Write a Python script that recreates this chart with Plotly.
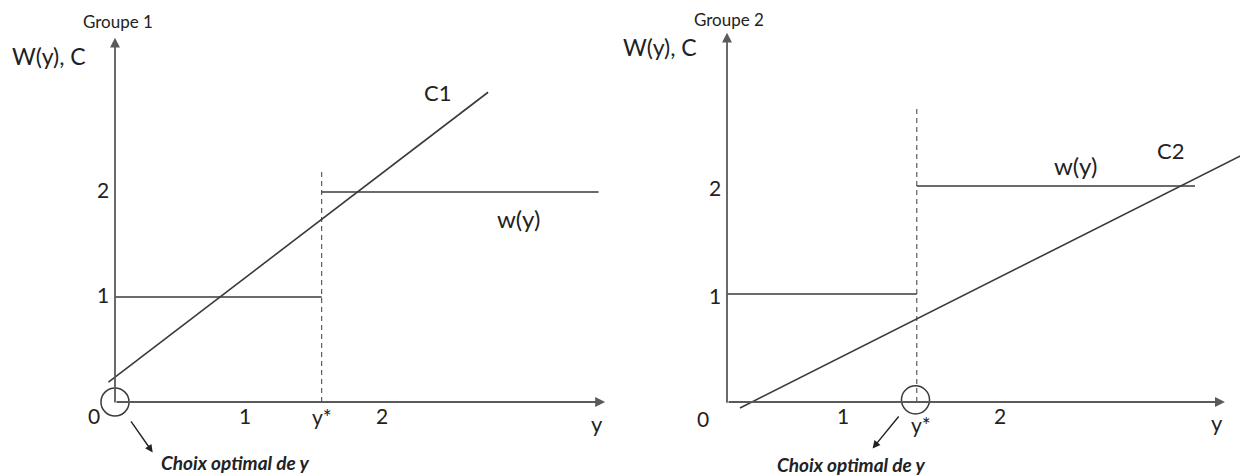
import plotly.graph_objects as go

# ---------------- data ----------------
groups = ["Groupe 1", "Groupe 2"]
y_star = [1.59, 1.46]
w_low = [1.0, 1.0]
w_high = [2.0, 2.0]
w_end = [3.72, 3.60]
c_names = ["C1", "C2"]
c_x = [[-0.05, 2.87], [0.10, 4.00]]
c_y = [[0.19, 2.95], [-0.056, 2.31]]
dash_top = [2.19, 2.72]
x_axis_end = [3.77, 3.83]
y_axis_top = [3.47, 3.42]
x_tick_labels = ["0", "1", "y*", "2"]
x_tick_pos = [[-0.16, 1.0, 1.59, 2.05], [-0.185, 0.89, 1.49, 2.10]]
x_tick_ypos = [[-0.125, -0.125, -0.14, -0.125], [-0.15, -0.125, -0.21, -0.125]]
y_tick_labels = ["1", "2"]
y_tick_pos = [[1.02, 2.02], [0.99, 1.99]]

LINE = "#3a3a3a"
AXC = "#5a5a5a"
TXT = "#222222"
FONT = "Lato"

fig = go.Figure()

# axis ranges (page has an 8px body margin, compensated here)
xr = [[-107 / 130, 517 / 130], [-95 / 130, 529 / 130]]
yr = [[-82 / 105, 394 / 105], [-82 / 108, 394 / 108]]
doms = [[0.0, 0.5], [0.5, 1.0]]

annotations = []
shapes = []

for i in range(2):
    xa = "x" if i == 0 else "x2"
    ya = "y" if i == 0 else "y2"
    # w(y) step
    fig.add_trace(go.Scatter(x=[0, y_star[i]], y=[w_low[i], w_low[i]], mode="lines",
                             line=dict(color=LINE, width=1.3), xaxis=xa, yaxis=ya,
                             showlegend=False, cliponaxis=False))
    fig.add_trace(go.Scatter(x=[y_star[i], w_end[i]], y=[w_high[i], w_high[i]], mode="lines",
                             line=dict(color=LINE, width=1.3), xaxis=xa, yaxis=ya,
                             showlegend=False, cliponaxis=False))
    # dashed vertical at y*
    fig.add_trace(go.Scatter(x=[y_star[i], y_star[i]], y=[0, dash_top[i]], mode="lines",
                             line=dict(color=LINE, width=1, dash="5px,4px"), xaxis=xa, yaxis=ya,
                             showlegend=False, cliponaxis=False))
    # cost line
    fig.add_trace(go.Scatter(x=c_x[i], y=c_y[i], mode="lines",
                             line=dict(color=LINE, width=1.6), xaxis=xa, yaxis=ya,
                             showlegend=False, cliponaxis=False))
    # axes with arrows
    annotations.append(dict(x=x_axis_end[i], y=0, ax=0, ay=0, xref=xa, yref=ya,
                            axref=xa, ayref=ya, showarrow=True, arrowhead=2, arrowsize=1.1,
                            arrowwidth=1.8, arrowcolor=AXC, text=""))
    annotations.append(dict(x=0, y=y_axis_top[i], ax=0, ay=-0.02, xref=xa, yref=ya,
                            axref=xa, ayref=ya, showarrow=True, arrowhead=2, arrowsize=1.1,
                            arrowwidth=1.8, arrowcolor=AXC, text=""))
    # tick labels
    for lab, px, py in zip(x_tick_labels, x_tick_pos[i], x_tick_ypos[i]):
        annotations.append(dict(x=px, y=py, xref=xa, yref=ya, text=lab, showarrow=False,
                                font=dict(family=FONT, size=21, color=TXT)))
    for lab, py in zip(y_tick_labels, y_tick_pos[i]):
        annotations.append(dict(x=-0.03, y=py, xref=xa, yref=ya, text=lab, showarrow=False,
                                xanchor="right", font=dict(family=FONT, size=21, color=TXT)))

# x-axis variable labels
annotations.append(dict(x=3.71, y=-0.2, xref="x", yref="y", text="y", showarrow=False,
                        font=dict(family=FONT, size=22, color=TXT)))
annotations.append(dict(x=3.77, y=-0.19, xref="x2", yref="y2", text="y", showarrow=False,
                        font=dict(family=FONT, size=22, color=TXT)))
# y-axis titles
annotations.append(dict(x=-0.508, y=3.30, xref="x", yref="y", text="W(y), C", showarrow=False,
                        font=dict(family=FONT, size=23, color=TXT)))
annotations.append(dict(x=-0.515, y=3.29, xref="x2", yref="y2", text="W(y), C", showarrow=False,
                        font=dict(family=FONT, size=23, color=TXT)))
# group titles
annotations.append(dict(x=0.02, y=3.62, xref="x", yref="y", text=groups[0], showarrow=False,
                        font=dict(family=FONT, size=17, color=TXT)))
annotations.append(dict(x=0.015, y=3.54, xref="x2", yref="y2", text=groups[1], showarrow=False,
                        font=dict(family=FONT, size=17, color=TXT)))
# curve labels
annotations.append(dict(x=2.48, y=2.95, xref="x", yref="y", text=c_names[0], showarrow=False,
                        font=dict(family=FONT, size=22, color=TXT)))
annotations.append(dict(x=3.10, y=1.75, xref="x", yref="y", text="w(y)", showarrow=False,
                        font=dict(family=FONT, size=24, color=TXT)))
annotations.append(dict(x=3.41, y=2.33, xref="x2", yref="y2", text=c_names[1], showarrow=False,
                        font=dict(family=FONT, size=22, color=TXT)))
annotations.append(dict(x=2.68, y=2.19, xref="x2", yref="y2", text="w(y)", showarrow=False,
                        font=dict(family=FONT, size=24, color=TXT)))
# optimal choice circles and arrows
shapes.append(dict(type="circle", xref="x", yref="y", x0=-0.108, x1=0.108,
                   y0=-0.133, y1=0.133, line=dict(color=LINE, width=1.5)))
shapes.append(dict(type="circle", xref="x2", yref="y2", x0=1.45 - 0.108, x1=1.45 + 0.108,
                   y0=0.02 - 0.13, y1=0.02 + 0.13, line=dict(color=LINE, width=1.5)))
annotations.append(dict(x=0.29, y=-0.48, ax=0.115, ay=-0.17, xref="x", yref="y", axref="x",
                        ayref="y", showarrow=True, arrowhead=2, arrowsize=1.1, arrowwidth=1.4,
                        arrowcolor=TXT, text=""))
annotations.append(dict(x=1.12, y=-0.43, ax=1.33, ay=-0.12, xref="x2", yref="y2", axref="x2",
                        ayref="y2", showarrow=True, arrowhead=2, arrowsize=1.1, arrowwidth=1.4,
                        arrowcolor=TXT, text=""))
annotations.append(dict(x=0.92, y=-0.575, xref="x", yref="y", text="<b><i>Choix optimal de y</i></b>",
                        showarrow=False, font=dict(family=FONT, size=19, color=TXT)))
annotations.append(dict(x=0.955, y=-0.58, xref="x2", yref="y2", text="<b><i>Choix optimal de y</i></b>",
                        showarrow=False, font=dict(family=FONT, size=19, color=TXT)))

axis_common = dict(showgrid=False, zeroline=False, showticklabels=False, ticks="",
                   showline=False, fixedrange=True)

fig.update_layout(
    width=1248, height=476,
    margin=dict(l=0, r=0, t=0, b=0),
    paper_bgcolor="white", plot_bgcolor="white",
    xaxis=dict(domain=doms[0], range=xr[0], **axis_common),
    yaxis=dict(domain=[0, 1], range=yr[0], **axis_common),
    xaxis2=dict(domain=doms[1], range=xr[1], anchor="y2", **axis_common),
    yaxis2=dict(domain=[0, 1], range=yr[1], anchor="x2", **axis_common),
    annotations=annotations, shapes=shapes,
    showlegend=False,
)

fig.write_html("out.html")
